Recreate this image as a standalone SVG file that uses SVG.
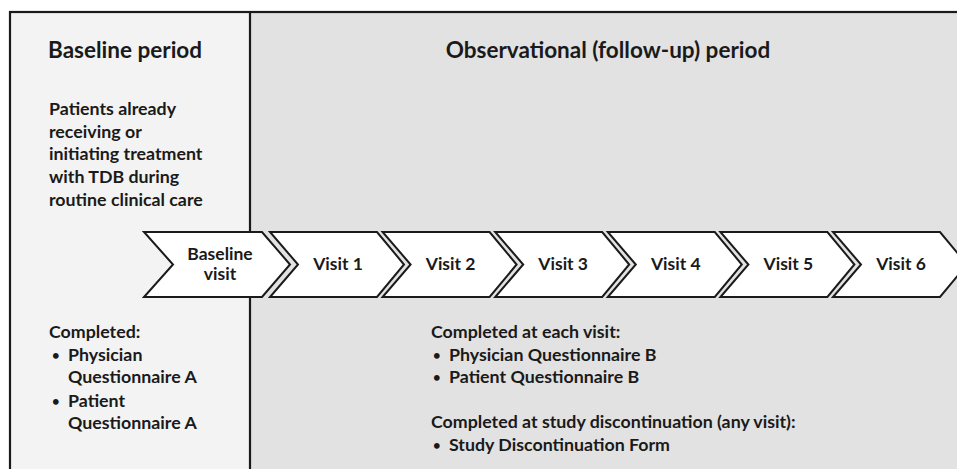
<svg xmlns="http://www.w3.org/2000/svg" width="957" height="469" viewBox="0 0 957 469">
<style>
text{font-family:Lato,"Open Sans","Liberation Sans",sans-serif;font-weight:700;fill:#1a1a1a}
.title{font-size:22.5px}
.body{font-size:17.8px}
.bul{font-size:13px}
.lbl{font-size:17.5px;text-anchor:middle}
.chev{fill:#ffffff;stroke:#1a1a1a;stroke-width:2;stroke-linejoin:miter}
</style>
<defs>
<path id="vchev" d="M0,232 L107,232 L134,264.5 L107,297 L0,297 L28,264.5 Z"/>
</defs>
<g id="baseline-panel">
<rect x="10" y="12" width="240" height="470" fill="#f3f3f3"/>
</g>
<g id="followup-panel">
<rect x="250" y="12" width="720" height="470" fill="#e2e2e2"/>
</g>
<g id="frame" fill="none" stroke="#1a1a1a" stroke-width="2.2">
<rect x="10" y="12" width="960" height="470"/>
<line x1="250" y1="12" x2="250" y2="469"/>
</g>
<g id="baseline-texts">
<text class="title" x="48" y="58">Baseline period</text>
<text class="body" x="49" y="115">Patients already</text>
<text class="body" x="49" y="137.7">receiving or</text>
<text class="body" x="49" y="160.3">initiating treatment</text>
<text class="body" x="49" y="183">with TDB during</text>
<text class="body" x="49" y="205.6">routine clinical care</text>
<text class="body" x="49" y="338">Completed:</text>
<text class="bul" x="52" y="359.5">•</text>
<text class="body" x="68" y="360.7">Physician</text>
<text class="body" x="68" y="383.4">Questionnaire A</text>
<text class="bul" x="52" y="405.5">•</text>
<text class="body" x="68" y="406.7">Patient</text>
<text class="body" x="68" y="429.4">Questionnaire A</text>
</g>
<g id="followup-texts">
<text class="title" x="608" y="58" text-anchor="middle" font-size="23">Observational (follow-up) period</text>
<text class="body" x="431" y="338">Completed at each visit:</text>
<text class="bul" x="433" y="359.5">•</text>
<text class="body" x="449" y="360.7">Physician Questionnaire B</text>
<text class="bul" x="433" y="382.2">•</text>
<text class="body" x="449" y="383.4">Patient Questionnaire B</text>
<text class="body" x="431" y="428.3">Completed at study discontinuation (any visit):</text>
<text class="bul" x="433" y="449.5">•</text>
<text class="body" x="449" y="450.7">Study Discontinuation Form</text>
</g>
<g id="baseline-visit">
<path class="chev" d="M144,232 L262,232 L290,264.5 L262,297 L144,297 L173,264.5 Z"/>
<text class="lbl" x="220" y="260">Baseline</text>
<text class="lbl" x="220" y="280">visit</text>
</g>
<g id="visit-1">
<use href="#vchev" class="chev" x="270"/>
<text class="lbl" x="338" y="270">Visit 1</text>
</g>
<g id="visit-2">
<use href="#vchev" class="chev" x="382.6"/>
<text class="lbl" x="450.6" y="270">Visit 2</text>
</g>
<g id="visit-3">
<use href="#vchev" class="chev" x="495.2"/>
<text class="lbl" x="563.2" y="270">Visit 3</text>
</g>
<g id="visit-4">
<use href="#vchev" class="chev" x="607.8"/>
<text class="lbl" x="675.8" y="270">Visit 4</text>
</g>
<g id="visit-5">
<use href="#vchev" class="chev" x="720.4"/>
<text class="lbl" x="788.4" y="270">Visit 5</text>
</g>
<g id="visit-6">
<use href="#vchev" class="chev" x="833"/>
<text class="lbl" x="901" y="270">Visit 6</text>
</g>
<g id="connectors"></g>
</svg>
